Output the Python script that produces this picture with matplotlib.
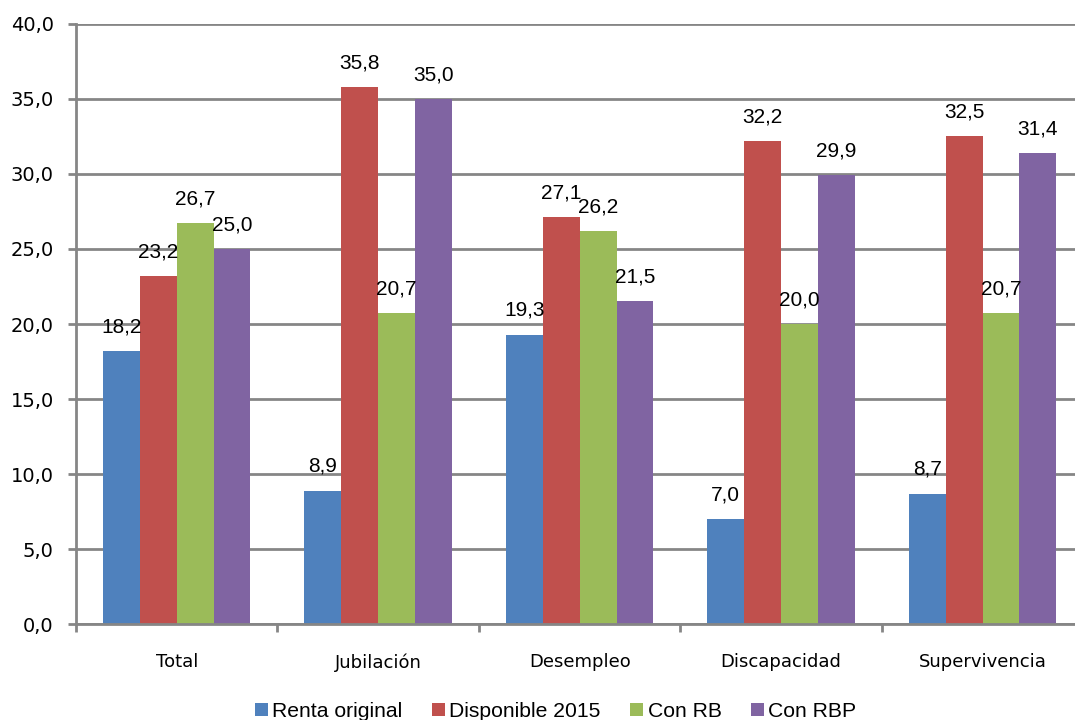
import numpy as np
import matplotlib.pyplot as plt
from matplotlib.ticker import FuncFormatter, MultipleLocator

categorias = ['Total', 'Jubilación', 'Desempleo', 'Discapacidad', 'Supervivencia']
series = ['Renta original', 'Disponible 2015', 'Con RB', 'Con RBP']
renta_original = [18.2, 8.9, 19.3, 7.0, 8.7]
disponible_2015 = [23.2, 35.8, 27.1, 32.2, 32.5]
con_rb = [26.7, 20.7, 26.2, 20.0, 20.7]
con_rbp = [25.0, 35.0, 21.5, 29.9, 31.4]

valores = [renta_original, disponible_2015, con_rb, con_rbp]
colores = ['#4F81BD', '#C0504D', '#9BBB59', '#8064A2']
gris = '#868686'

fig = plt.figure(figsize=(10.75, 7.2), dpi=100)
ax = fig.add_axes([0.0707, 0.1333, 0.937, 0.8334])

ind = np.arange(len(categorias))
width = 0.183
for i, (serie, vals) in enumerate(zip(series, valores)):
    pos = ind + (i - 1.5) * width
    ax.bar(pos, vals, width, color=colores[i], label=serie, zorder=3)
    for x, v in zip(pos, vals):
        ax.annotate(f'{v:.1f}'.replace('.', ','), (x, v), xytext=(0, 10.5),
                    textcoords='offset points', ha='center', va='bottom',
                    fontsize=15, family='Liberation Sans', zorder=4)

ax.set_xlim(-0.5, len(categorias) - 0.5)
ax.set_ylim(0, 40)
ax.yaxis.set_major_locator(MultipleLocator(5))
ax.yaxis.set_major_formatter(FuncFormatter(lambda v, p: f'{v:.1f}'.replace('.', ',')))
ax.grid(axis='y', color=gris, linewidth=2, zorder=0)

ax.set_xticks(ind)
ax.set_xticklabels(categorias)
ax.set_xticks(np.arange(len(categorias) + 1) - 0.5, minor=True)
ax.tick_params(axis='x', which='major', length=0, pad=21, labelsize=13)
ax.tick_params(axis='x', which='minor', length=6, width=2, color=gris)
ax.tick_params(axis='y', length=6, width=2, color=gris, labelsize=14, pad=10)
for lab in ax.get_xticklabels() + ax.get_yticklabels():
    lab.set_family('DejaVu Sans')

for s in ['top', 'right']:
    ax.spines[s].set_visible(False)
for s in ['left', 'bottom']:
    ax.spines[s].set_color(gris)
    ax.spines[s].set_linewidth(2)
    ax.spines[s].set_zorder(5)

fig.legend(loc='center', bbox_to_anchor=(0.517, 0.012), ncol=4, frameon=False,
           prop={'family': 'Liberation Sans', 'size': 15.2}, handlelength=0.62,
           handleheight=0.62, handletextpad=0.2, columnspacing=1.4)

fig.savefig('out.png', dpi=100)
